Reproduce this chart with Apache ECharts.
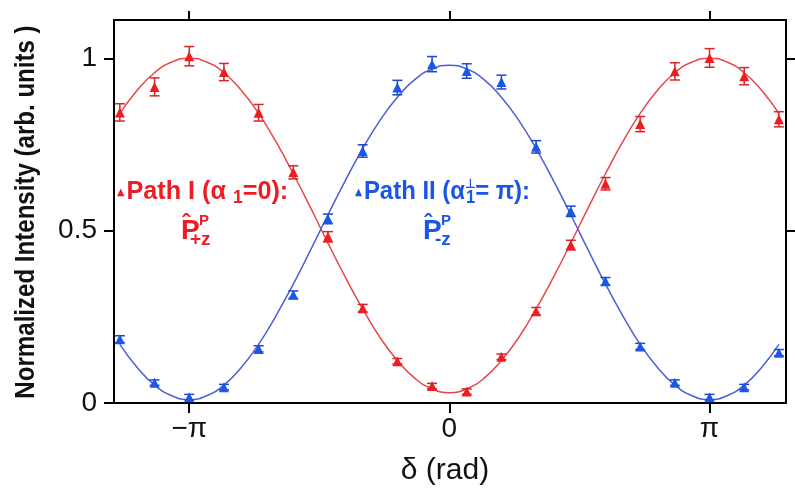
<!DOCTYPE html>
<html>
<head>
<meta charset="utf-8">
<script src="https://cdn.jsdelivr.net/npm/echarts@6/dist/echarts.min.js"></script>
<style>
  html, body { margin: 0; padding: 0; background: #fff; }
  #chart { width: 795px; height: 500px; }
</style>
</head>
<body>
<div id="chart"></div>
<script>
// measured phase, in steps of pi/15
const dataSteps = [-19, -17, -15, -13, -11, -9, -7, -5, -3, -1, 1, 3, 5, 7, 9, 11, 13, 15, 17, 19];
const redValues = [0.843, 0.917, 1.006, 0.960, 0.842, 0.669, 0.482, 0.275, 0.121, 0.049, 0.033, 0.134, 0.266, 0.458, 0.636, 0.809, 0.962, 1.001, 0.948, 0.823];
const redErrors = [0.025, 0.026, 0.028, 0.025, 0.024, 0.019, 0.015, 0.011, 0.008, 0.008, 0.008, 0.008, 0.011, 0.014, 0.018, 0.022, 0.025, 0.027, 0.025, 0.022];
const blueValues = [0.185, 0.059, 0.017, 0.046, 0.157, 0.314, 0.534, 0.731, 0.915, 0.983, 0.963, 0.931, 0.743, 0.556, 0.353, 0.164, 0.059, 0.017, 0.046, 0.146];
const blueErrors = [0.010, 0.008, 0.008, 0.008, 0.009, 0.011, 0.014, 0.018, 0.021, 0.022, 0.021, 0.020, 0.018, 0.015, 0.011, 0.009, 0.008, 0.008, 0.008, 0.009];

// fitted curves, read at steps of pi/15
const fitSteps = [-19, -18, -17, -16, -15, -14, -13, -12, -11, -10, -9, -8, -7, -6, -5, -4, -3, -2, -1, 0,
                  1, 2, 3, 4, 5, 6, 7, 8, 9, 10, 11, 12, 13, 14, 15, 16, 17, 18, 19];
const redFit = [0.84, 0.907, 0.958, 0.989, 1.0, 0.989, 0.958, 0.907, 0.84, 0.758, 0.665, 0.566, 0.464, 0.365, 0.273, 0.19, 0.123, 0.072, 0.041, 0.03,
                0.041, 0.072, 0.123, 0.19, 0.273, 0.365, 0.464, 0.566, 0.665, 0.758, 0.84, 0.907, 0.958, 0.989, 1.0, 0.989, 0.958, 0.907, 0.84];
const blueFit = [0.17, 0.103, 0.052, 0.021, 0.01, 0.021, 0.052, 0.103, 0.17, 0.253, 0.345, 0.444, 0.546, 0.645, 0.738, 0.82, 0.887, 0.938, 0.969, 0.98,
                 0.969, 0.938, 0.887, 0.82, 0.738, 0.645, 0.546, 0.444, 0.345, 0.253, 0.17, 0.103, 0.052, 0.021, 0.01, 0.021, 0.052, 0.103, 0.17];

const xTickValues = [-Math.PI, 0, Math.PI];
const xTickLabels = ['−π', '0', 'π'];
const yTickValues = [0, 0.5, 1];
const yTickLabels = ['0', '0.5', '1'];

const STEP = Math.PI / 15;
const RED = '#ee1d23';
const BLUE = '#1b56e6';
const LABEL_FONT = "'Liberation Sans', Arial, sans-serif";
const BOLD_FONT = "'Liberation Sans', Arial, sans-serif";

const chart = echarts.init(document.getElementById('chart'), null, { renderer: 'canvas' });

const points = (vals, errs) => dataSteps.map((k, i) => [k * STEP, vals[i], errs[i]]);
const curve = (vals) => fitSteps.map((k, i) => [k * STEP, vals[i]]);

function errorBars(color) {
    return function (params, api) {
        const x = api.value(0);
        const y = api.value(1);
        const e = api.value(2);
        const top = api.coord([x, y + e]);
        const bot = api.coord([x, y - e]);
        const w = 5;
        const style = { stroke: color, lineWidth: 1.5, fill: null };
        return {
            type: 'group',
            children: [
                { type: 'line', shape: { x1: top[0], y1: top[1], x2: bot[0], y2: bot[1] }, style },
                { type: 'line', shape: { x1: top[0] - w, y1: top[1], x2: top[0] + w, y2: top[1] }, style },
                { type: 'line', shape: { x1: bot[0] - w, y1: bot[1], x2: bot[0] + w, y2: bot[1] }, style }
            ]
        };
    };
}

const axisLine = { show: true, onZero: false, lineStyle: { color: '#000', width: 2 } };
const tickStyle = { color: '#000', width: 2 };
const pickLabel = (vals, labels) => (v) => {
    const i = vals.findIndex(p => Math.abs(p - v) < 1e-6);
    return i < 0 ? '' : labels[i];
};

const txt = (x, y, text, color, size, extra) => ({
    type: 'text', x, y, z: 100,
    style: Object.assign({
        text, fill: color, font: `bold ${size}px ${BOLD_FONT}`,
        align: 'left', verticalAlign: 'middle'
    }, extra || {})
});

const option = {
    animation: false,
    backgroundColor: '#fff',
    grid: { left: 114, right: 9, top: 20, bottom: 97, outerBoundsMode: 'none', show: false },
    xAxis: [
        {
            type: 'value', position: 'bottom', min: -4.05, max: 4.065,
            axisLine,
            axisTick: { show: true, customValues: xTickValues, length: 10, lineStyle: tickStyle },
            axisLabel: {
                customValues: xTickValues, formatter: pickLabel(xTickValues, xTickLabels),
                color: '#111', fontSize: 28, fontFamily: LABEL_FONT, margin: 12
            },
            splitLine: { show: false },
            name: 'δ (rad)', nameLocation: 'middle', nameGap: 53,
            nameTextStyle: { color: '#111', fontSize: 30, fontFamily: LABEL_FONT, padding: [0, 10, 0, 0] }
        },
        {
            type: 'value', position: 'top', min: -4.05, max: 4.065,
            axisLine,
            axisTick: { show: true, customValues: xTickValues, length: 9, lineStyle: tickStyle },
            axisLabel: { show: false },
            splitLine: { show: false }
        }
    ],
    yAxis: [
        {
            type: 'value', position: 'left', min: 0, max: 1.111,
            axisLine,
            axisTick: { show: true, customValues: yTickValues, length: 10, lineStyle: tickStyle },
            axisLabel: {
                customValues: yTickValues, formatter: pickLabel(yTickValues, yTickLabels),
                color: '#111', fontSize: 28, fontFamily: LABEL_FONT, margin: 17
            },
            splitLine: { show: false }
        },
        {
            type: 'value', position: 'right', min: 0, max: 1.111,
            axisLine,
            axisTick: { show: true, customValues: [0.5, 1], length: 10, lineStyle: tickStyle },
            axisLabel: { show: false },
            splitLine: { show: false }
        }
    ],
    series: [
        {
            type: 'line', data: curve(redFit), smooth: true, showSymbol: false,
            lineStyle: { color: '#e8474a', width: 1.5 }, z: 1, silent: true
        },
        {
            type: 'line', data: curve(blueFit), smooth: true, showSymbol: false,
            lineStyle: { color: '#4b5fd8', width: 1.5 }, z: 1, silent: true
        },
        {
            type: 'custom', data: points(redValues, redErrors), renderItem: errorBars('#d4262b'),
            encode: { x: 0, y: 1 }, z: 2, silent: true
        },
        {
            type: 'custom', data: points(blueValues, blueErrors), renderItem: errorBars('#1f47c8'),
            encode: { x: 0, y: 1 }, z: 2, silent: true
        },
        {
            type: 'scatter', data: points(redValues, redErrors), symbol: 'triangle', symbolSize: [10, 10],
            itemStyle: { color: RED, opacity: 1 }, z: 3
        },
        {
            type: 'scatter', data: points(blueValues, blueErrors), symbol: 'triangle', symbolSize: [10, 10],
            itemStyle: { color: BLUE, opacity: 1 }, z: 3
        }
    ],
    graphic: [
        // y axis title
        {
            type: 'text', x: 26, y: 212, rotation: Math.PI / 2, scaleX: 0.86, z: 100,
            style: {
                text: 'Normalized Intensity (arb. units )', fill: '#111',
                font: `bold 28px ${BOLD_FONT}`, align: 'center', verticalAlign: 'middle'
            }
        },
        // path I label
        {
            type: 'text', x: 117, y: 192, z: 100, scaleX: 0.97,
            style: {
                text: '{tri|▲}{t|Path I (α }{sub|1}{t|=0):}',
                align: 'left', verticalAlign: 'middle',
                rich: {
                    tri: { fill: RED, fontSize: 10, fontFamily: 'DejaVu Sans', padding: [0, 2, 0, 0] },
                    t: { fill: RED, fontSize: 26, fontWeight: 'bold', fontFamily: BOLD_FONT },
                    sub: { fill: RED, fontSize: 18, fontWeight: 'bold', fontFamily: BOLD_FONT, padding: [12, 0, 0, 0] }
                }
            }
        },
        txt(181, 231, 'P', RED, 28),
        txt(182, 224, 'ˆ', RED, 24),
        txt(199, 221, 'P', RED, 15),
        txt(190, 240, '+z', RED, 19),
        // path II label
        {
            type: 'text', x: 355, y: 192, z: 100, scaleX: 0.92,
            style: {
                text: '{tri|▲}{t|Path II (α}{sup|⊥}{sub|1}{t|= π):}',
                align: 'left', verticalAlign: 'middle',
                rich: {
                    tri: { fill: BLUE, fontSize: 10, fontFamily: 'DejaVu Sans', padding: [0, 2, 0, 0] },
                    t: { fill: BLUE, fontSize: 26, fontWeight: 'bold', fontFamily: BOLD_FONT },
                    sup: { fill: BLUE, fontSize: 13, fontWeight: 'bold', fontFamily: 'DejaVu Sans', width: 1, padding: [0, 0, 14, 0] },
                    sub: { fill: BLUE, fontSize: 18, fontWeight: 'bold', fontFamily: BOLD_FONT, padding: [12, 0, 0, 0] }
                }
            }
        },
        txt(423, 231, 'P', BLUE, 28),
        txt(424, 224, 'ˆ', BLUE, 24),
        txt(441, 221, 'P', BLUE, 15),
        txt(435, 240, '-z', BLUE, 19)
    ]
};

chart.setOption(option);
window.addEventListener('resize', () => chart.resize());
</script>
</body>
</html>
